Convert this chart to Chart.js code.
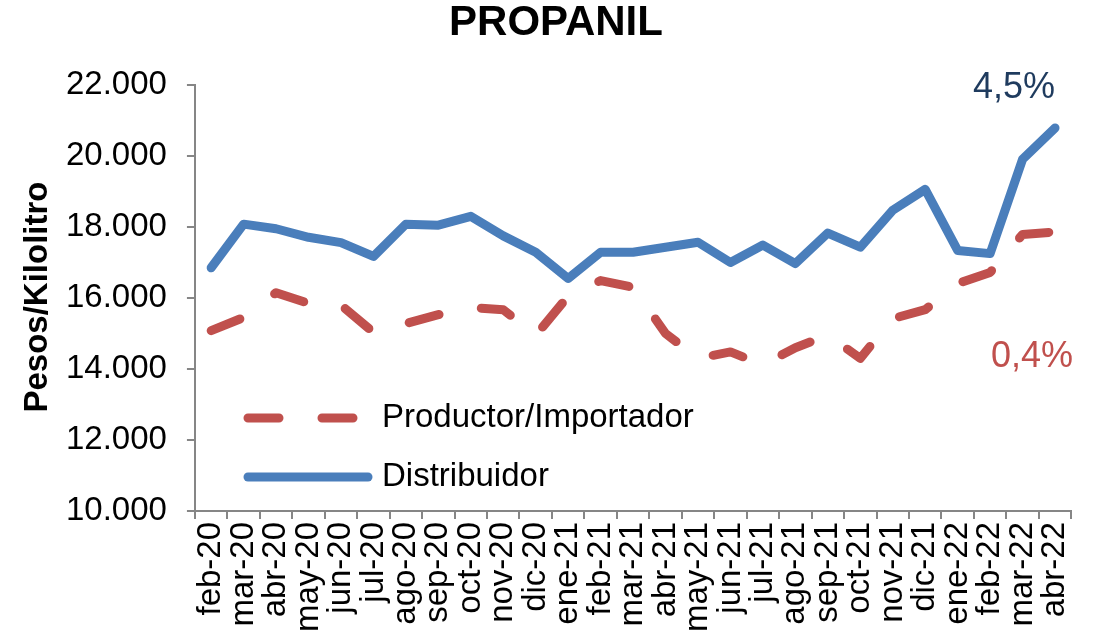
<!DOCTYPE html>
<html>
<head>
<meta charset="utf-8">
<script src="https://cdn.jsdelivr.net/npm/chart.js@4.4.1/dist/chart.umd.min.js"></script>
<style>
  html, body { margin: 0; padding: 0; background: #fff; }
  #wrap { width: 1098px; height: 639px; }
</style>
</head>
<body>
<div id="wrap"><canvas id="propanilChart" width="1098" height="639"></canvas></div>
<script>
// Datos
const titulo = 'PROPANIL';
const tituloEjeY = 'Pesos/Kilolitro';
const meses = ['feb-20', 'mar-20', 'abr-20', 'may-20', 'jun-20', 'jul-20', 'ago-20', 'sep-20', 'oct-20', 'nov-20', 'dic-20',
    'ene-21', 'feb-21', 'mar-21', 'abr-21', 'may-21', 'jun-21', 'jul-21', 'ago-21', 'sep-21', 'oct-21', 'nov-21', 'dic-21',
    'ene-22', 'feb-22', 'mar-22', 'abr-22'];
const productor = [15080, 15450, 16150, 15850, 15800, 15030, 15280, 15530, 15730, 15670, 14950,
    16050, 16490, 16300, 15000, 14300, 14480, 14120, 14600, 14950, 14300, 15420, 15670,
    16410, 16720, 17790, 17860];
const distribuidor = [16850, 18080, 17950, 17710, 17560, 17170, 18080, 18050, 18300, 17750, 17290,
    16550, 17290, 17290, 17430, 17570, 17000, 17490, 16970, 17830, 17430, 18470, 19060,
    17340, 17250, 19910, 20790];
const variaciones = ['0,4%', '4,5%'];   // productor, distribuidor
const ejeY = { min: 10000, max: 22000, paso: 2000 };

const FONT = '"Liberation Sans", Arial, sans-serif';
const ROJO = '#C0504D';
const AZUL = '#4A7EBB';
const GRIS = '#868686';

// Titulo, titulo del eje, leyenda interna y variaciones
const textosPlugin = {
    id: 'textos',
    afterDraw(chart) {
        const ctx = chart.ctx;
        const x = chart.scales.x;
        const y = chart.scales.y;
        const ultimo = meses.length - 1;
        ctx.save();

        ctx.fillStyle = '#000';
        ctx.textAlign = 'center';
        ctx.textBaseline = 'middle';
        ctx.font = 'bold 42px ' + FONT;
        ctx.fillText(titulo, 556, 23);

        ctx.save();
        ctx.translate(38, 297);
        ctx.rotate(-Math.PI / 2);
        ctx.font = 'bold 33px ' + FONT;
        ctx.fillText(tituloEjeY, 0, 0);
        ctx.restore();

        // leyenda
        const items = chart.data.datasets.map((ds, i) => ({ ds, yPos: i === 0 ? 418 : 477 }));
        items.forEach(({ ds, yPos }) => {
            ctx.beginPath();
            ctx.lineWidth = ds.borderWidth;
            ctx.strokeStyle = ds.borderColor;
            ctx.lineCap = 'round';
            ctx.setLineDash(ds.borderDash || []);
            ctx.moveTo(248, yPos);
            ctx.lineTo(368, yPos);
            ctx.stroke();
            ctx.setLineDash([]);
            ctx.fillStyle = '#000';
            ctx.textAlign = 'left';
            ctx.font = '33px ' + FONT;
            ctx.fillText(ds.label, 382, yPos);
        });

        // variaciones
        ctx.textAlign = 'center';
        ctx.font = '36px ' + FONT;
        const px = x.getPixelForValue(ultimo);
        ctx.fillStyle = '#1F3B5E';
        ctx.fillText(variaciones[1], px - 41, y.getPixelForValue(distribuidor[ultimo]) - 40);
        ctx.fillStyle = ROJO;
        ctx.fillText(variaciones[0], px - 23, y.getPixelForValue(productor[ultimo]) + 125);

        ctx.restore();
    }
};

const ctx = document.getElementById('propanilChart').getContext('2d');
new Chart(ctx, {
    type: 'line',
    data: {
        labels: meses,
        datasets: [{
            label: 'Productor/Importador',
            data: productor,
            borderColor: ROJO,
            backgroundColor: ROJO,
            borderWidth: 9,
            borderDash: [31, 43],
            borderCapStyle: 'round',
            borderJoinStyle: 'round',
            pointRadius: 0,
            tension: 0
        }, {
            label: 'Distribuidor',
            data: distribuidor,
            borderColor: AZUL,
            backgroundColor: AZUL,
            borderWidth: 9,
            borderCapStyle: 'round',
            borderJoinStyle: 'round',
            pointRadius: 0,
            tension: 0
        }]
    },
    options: {
        responsive: false,
        animation: false,
        layout: { padding: { top: 85, right: 20, bottom: 4, left: 46 } },
        plugins: {
            legend: { display: false },
            tooltip: { enabled: false }
        },
        scales: {
            x: {
                offset: true,
                grid: { display: true, drawOnChartArea: false, drawTicks: true, tickLength: 8, color: GRIS, lineWidth: 2, offset: true },
                border: { display: true, color: GRIS, width: 2 },
                ticks: {
                    autoSkip: false, maxRotation: 90, minRotation: 90, padding: 3,
                    color: '#000', font: { family: FONT, size: 33 }
                }
            },
            y: {
                min: ejeY.min,
                max: ejeY.max,
                grid: { display: true, drawOnChartArea: false, drawTicks: true, tickLength: 8, color: GRIS, lineWidth: 2 },
                border: { display: true, color: GRIS, width: 2 },
                ticks: {
                    stepSize: ejeY.paso, padding: 20, color: '#000',
                    font: { family: FONT, size: 33 },
                    callback: v => v.toLocaleString('de-DE')
                }
            }
        }
    },
    plugins: [textosPlugin]
});
</script>
</body>
</html>
